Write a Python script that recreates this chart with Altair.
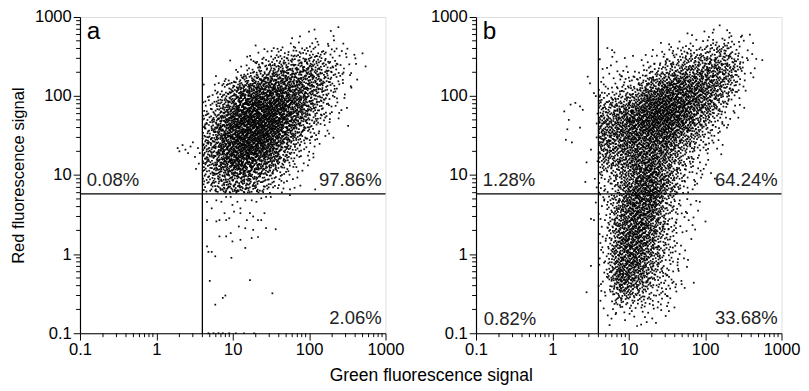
import numpy as np
import pandas as pd
import altair as alt

FONT = "Liberation Sans"

# ---------------- data ----------------
MAJOR = [0.1, 1, 10, 100, 1000]
MINOR = [0.2, 0.3, 0.4, 0.5, 0.6, 0.7, 0.8, 0.9,
         2, 3, 4, 5, 6, 7, 8, 9,
         20, 30, 40, 50, 60, 70, 80, 90,
         200, 300, 400, 500, 600, 700, 800, 900]

GATE_X = [4.0]     # green gate
GATE_Y = [5.8]     # red gate

# density grid (log10 cell centres, 0.2-decade cells) : event counts per cell
COLS = [0.7, 0.9, 1.1, 1.3, 1.5, 1.7, 1.9, 2.1, 2.3, 2.5, 2.7]

A_ROWS = [2.7, 2.5, 2.3, 2.1, 1.9, 1.7, 1.5, 1.3, 1.1, 0.9]
A_COUNTS = [
    [0, 0, 0, 0, 0, 0, 3, 5, 2, 1, 0],
    [0, 0, 0, 6, 14, 23, 29, 29, 14, 5, 1],
    [0, 0, 9, 29, 52, 63, 63, 52, 29, 6, 0],
    [3, 23, 63, 92, 98, 92, 75, 52, 17, 3, 0],
    [12, 52, 104, 127, 127, 109, 80, 40, 12, 2, 0],
    [29, 80, 127, 138, 132, 104, 63, 23, 5, 0, 0],
    [40, 98, 132, 138, 121, 80, 35, 9, 2, 0, 0],
    [46, 98, 127, 121, 92, 46, 14, 3, 0, 0, 0],
    [40, 80, 98, 86, 52, 17, 5, 0, 0, 0, 0],
    [23, 46, 52, 40, 17, 6, 2, 0, 0, 0, 0],
]
# individual sparse events, panel a
A_EXTRA_X = [4.6, 5.3, 6.1, 7.1, 8.2, 9.4, 9.9, 11.5, 14.6, 17.7, 20.4, 23.6, 27.3, 31.5, 56,
             4.6, 6.1, 6.7, 7.8, 8.2, 9.0, 10.4, 12.6, 12.6, 15.3, 16.8, 18.5, 21.4, 23.6, 26,
             12.0, 14.6, 18.5, 27.3, 36.5, 6.7, 8.2, 9.4, 12.6, 17.7, 21.4, 9.9, 14.6,
             4.6, 4.8, 5.3, 5.9, 9.6, 5.0, 16.8, 7.4, 8.0, 5.9, 33,
             1.9, 2.0, 2.2, 2.4, 2.6, 2.8, 3.0, 3.2, 3.5, 3.7, 3.3, 3.6,
             209, 500, 355, 324, 120, 120,
             4.8, 5.6, 6.5, 7.4, 9.0, 11, 14, 19]
A_EXTRA_Y = [4.6, 3.8, 4.8, 4.6, 5.3, 5.3, 4.2, 4.6, 4.8, 4.8, 4.6, 5.1, 5.3, 5.3, 5.6,
             2.7, 2.6, 2.7, 3.3, 2.7, 2.85, 3.45, 3.8, 3.3, 2.7, 3.3, 3.0, 2.7, 2.7, 3.3,
             2.24, 2.13, 2.03, 2.13, 2.07, 1.68, 1.68, 1.85, 1.52, 1.6, 1.65, 1.45, 1.2,
             1.26, 1.07, 1.07, 0.94, 0.90, 0.46, 0.47, 0.28, 0.30, 0.23, 0.32,
             22, 20, 24, 21, 19, 23, 26, 17, 22, 19, 12, 14,
             575, 347, 195, 42, 28, 6.6,
             0.1, 0.1, 0.1, 0.1, 0.1, 0.1, 0.1, 0.1]

B_ROWS = [2.7, 2.5, 2.3, 2.1, 1.9, 1.7, 1.5, 1.3, 1.1, 0.9,
          0.7, 0.5, 0.3, 0.1, -0.1, -0.3, -0.5, -0.7, -0.9]
B_COUNTS = [
    [0, 1, 0, 0, 0, 3, 6, 10, 15, 4, 0],
    [4, 4, 0, 5, 15, 24, 30, 40, 40, 10, 1],
    [4, 5, 6, 20, 40, 55, 60, 65, 50, 14, 0],
    [10, 18, 32, 65, 88, 95, 88, 72, 38, 6, 0],
    [30, 50, 72, 108, 122, 108, 85, 50, 15, 2, 0],
    [55, 78, 100, 122, 122, 95, 58, 25, 6, 0, 0],
    [62, 78, 95, 102, 95, 65, 32, 10, 2, 0, 0],
    [50, 65, 80, 88, 65, 38, 15, 4, 0, 0, 0],
    [30, 50, 80, 95, 55, 25, 10, 2, 0, 0, 0],
    [12, 38, 80, 100, 60, 18, 6, 1, 0, 0, 0],
    [10, 55, 100, 95, 32, 6, 2, 0, 0, 0, 0],
    [10, 60, 100, 80, 26, 7, 3, 0, 0, 0, 0],
    [9, 72, 100, 65, 25, 6, 0, 0, 0, 0, 0],
    [8, 80, 100, 58, 20, 4, 0, 0, 0, 0, 0],
    [8, 88, 88, 45, 18, 5, 0, 0, 0, 0, 0],
    [7, 90, 72, 32, 15, 4, 0, 0, 0, 0, 0],
    [5, 55, 36, 18, 12, 2, 0, 0, 0, 0, 0],
    [2, 10, 8, 7, 5, 0, 0, 0, 0, 0, 0],
    [0, 2, 2, 2, 0, 0, 0, 0, 0, 0, 0],
]
B_EXTRA_X = [1.43, 1.5, 1.8, 1.64, 2.0, 2.3, 2.5, 2.9, 3.1, 3.5, 2.8, 2.7, 2.3, 3.2, 1.57, 1.73,
             3.8, 3.8, 3.9, 3.7, 3.9, 3.8,
             3.2, 3.5, 3.2, 2.8, 3.6, 3.7,
             560, 325, 193, 85, 74, 58]
B_EXTRA_Y = [64, 28, 26, 50, 82, 74, 67, 176, 145, 109, 14.5, 8.2, 40, 21, 38, 78,
             30, 45, 60, 100, 15, 7,
             2.8, 2.7, 0.71, 0.33, 9.0, 4.5,
             285, 71, 40, 4.6, 2.05, 3.3]

A_PCT = ["0.08%", "97.86%", "", "2.06%"]          # UL, UR, LL, LR
B_PCT = ["1.28%", "64.24%", "0.82%", "33.68%"]
LETTERS = ["a", "b"]

# ---------------- build event tables ----------------
# events are laid out by Halton (2,3,5) quasi-Monte-Carlo thinning of the
# densities read into the grids above
STEP = 0.2


def halton(n, base):
    n = n.copy()
    f = np.ones(len(n))
    r = np.zeros(len(n))
    while np.any(n > 0):
        f = f / base
        r = r + f * (n % base)
        n = n // base
    return r


NIDX = np.arange(1, 200000)
HX, HY, HW = halton(NIDX, 2), halton(NIDX, 3), halton(NIDX, 5)


def events(rows, counts, extra_x, extra_y, ly_clamp, ly_min, offset):
    Z = np.array(counts, dtype=float)[::-1]            # ascending rows
    ys = np.array(rows[::-1], dtype=float)
    xs = np.array(COLS, dtype=float)
    Zp = np.pad(Z, 1)
    y0 = ys[0] - STEP
    x0 = xs[0] - STEP
    total = int(Z.sum())

    hx = np.roll(HX, -offset)
    hy = np.roll(HY, -offset)
    hw = np.roll(HW, -offset)
    lx = 0.605 + hx * (3.0 - 0.605)
    ly = ly_min + hy * (3.0 - ly_min)
    lxe = np.maximum(lx, xs[0])
    lye = np.maximum(ly, ly_clamp) if ly_clamp is not None else ly
    fi = (lxe - x0) / STEP
    fj = (lye - y0) / STEP
    i0 = np.clip(np.floor(fi).astype(int), 0, Zp.shape[1] - 2)
    j0 = np.clip(np.floor(fj).astype(int), 0, Zp.shape[0] - 2)
    ti = np.clip(fi - i0, 0, 1)
    tj = np.clip(fj - j0, 0, 1)
    d = (Zp[j0, i0] * (1 - ti) * (1 - tj) + Zp[j0, i0 + 1] * ti * (1 - tj)
         + Zp[j0 + 1, i0] * (1 - ti) * tj + Zp[j0 + 1, i0 + 1] * ti * tj)
    keep = hw < d / Z.max()
    idx = np.nonzero(keep)[0][:total]
    gx = list(10 ** lx[idx]) + list(extra_x)
    gy = list(10 ** ly[idx]) + list(extra_y)
    return pd.DataFrame({"green": gx, "red": gy})


df_a = events(A_ROWS, A_COUNTS, A_EXTRA_X, A_EXTRA_Y, 0.9, 0.775, 0)
df_b = events(B_ROWS, B_COUNTS, B_EXTRA_X, B_EXTRA_Y, None, -1.0, 50000)

W, H = 314, 325
xscale = alt.Scale(type="log", domain=[0.1, 1000], nice=False)
yscale = alt.Scale(type="log", domain=[0.1, 1000], nice=False)

AX = dict(values=MAJOR, format="~g", grid=False, tickSize=7,
          labelFontSize=17, labelFont=FONT, labelColor="black",
          tickColor="black", domainColor="black", labelPadding=2,
          labelFlush=False, labelOverlap=False, domainWidth=1.2, tickWidth=1)


def panel(df, pct, letter, ytitle):
    X = lambda f: alt.X(f, scale=xscale, axis=alt.Axis(title=None, **AX))
    if ytitle:
        yax = alt.Axis(title="Red fluorescence signal", titleFont=FONT, titleFontSize=17,
                       titleFontWeight="normal", titleColor="black", titlePadding=7, **AX)
    else:
        yax = alt.Axis(title=None, **AX)
    Y = lambda f: alt.Y(f, scale=yscale, axis=yax)

    pts = alt.Chart(df).mark_square(size=3.2, color="black", opacity=0.95).encode(
        x=X("green:Q"), y=Y("red:Q"))

    minor = pd.DataFrame({"m": MINOR})
    mx = alt.Chart(minor).mark_rule(color="black", strokeWidth=1).encode(
        x=X("m:Q"), y=alt.value(H), y2=alt.value(H + 4))
    my = alt.Chart(minor).mark_rule(color="black", strokeWidth=1).encode(
        y=Y("m:Q"), x=alt.value(0), x2=alt.value(-4))

    gx = alt.Chart(pd.DataFrame({"gx": GATE_X})).mark_rule(
        color="black", strokeWidth=1.3).encode(x=X("gx:Q"))
    gy = alt.Chart(pd.DataFrame({"gy": GATE_Y})).mark_rule(
        color="black", strokeWidth=1.3).encode(y=Y("gy:Q"))

    tdf = pd.DataFrame({"t": pct})
    tstyle = dict(font=FONT, fontSize=19, color="#222", baseline="alphabetic")
    ul = alt.Chart(tdf.iloc[[0]]).mark_text(align="left", **tstyle).encode(
        text="t:N", x=alt.value(7), y=alt.value(174))
    ur = alt.Chart(tdf.iloc[[1]]).mark_text(align="right", **tstyle).encode(
        text="t:N", x=alt.value(W - 4), y=alt.value(174))
    ll = alt.Chart(tdf.iloc[[2]]).mark_text(align="left", **tstyle).encode(
        text="t:N", x=alt.value(8), y=alt.value(H - 8))
    lr = alt.Chart(tdf.iloc[[3]]).mark_text(align="right", **tstyle).encode(
        text="t:N", x=alt.value(W - 4), y=alt.value(H - 9))
    let = alt.Chart(pd.DataFrame({"t": [letter]})).mark_text(
        align="left", font=FONT, fontSize=25, color="black", baseline="alphabetic").encode(
        text="t:N", x=alt.value(7), y=alt.value(23))

    return alt.layer(pts, gx, gy, mx, my, ul, ur, ll, lr, let).properties(width=W, height=H)


chart = alt.hconcat(
    panel(df_a, A_PCT, LETTERS[0], True),
    panel(df_b, B_PCT, LETTERS[1], False),
    spacing=25,
).properties(
    padding={"left": 1, "top": -6, "right": 0, "bottom": -3},
    title=alt.TitleParams("Green fluorescence signal", orient="bottom", anchor="middle",
                          font=FONT, fontSize=18, fontWeight="normal", color="black",
                          offset=10, dx=27),
).configure_view(stroke="black", strokeWidth=1.2).configure(background="white")

chart.save("out.html", embed_options={"renderer": "svg", "actions": False})
